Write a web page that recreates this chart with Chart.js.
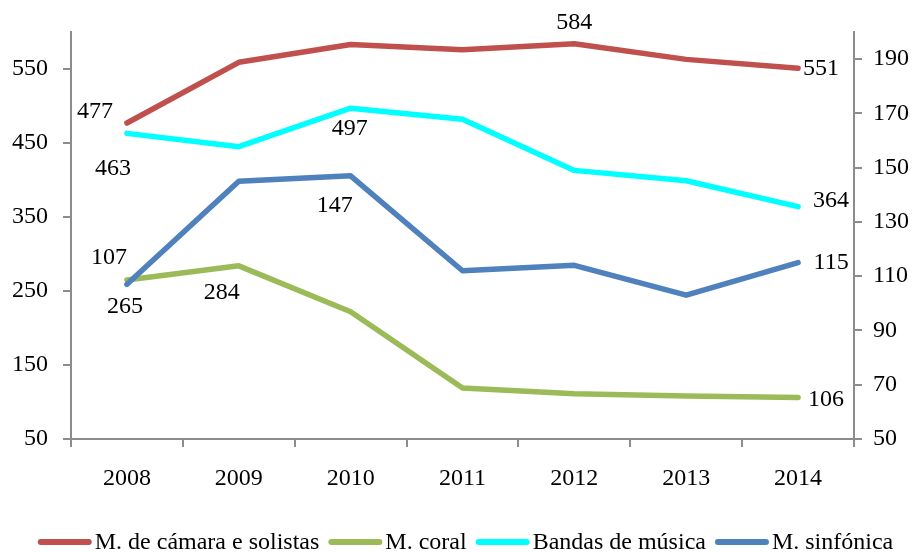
<!DOCTYPE html>
<html><head><meta charset="utf-8">
<script src="https://cdn.jsdelivr.net/npm/chart.js@4"></script>
<style>html,body{margin:0;padding:0;background:#fff}#wrap{width:916px;height:552px}</style>
</head><body><div id="wrap"><canvas id="c" width="916" height="552"></canvas></div>
<script>
const years = ['2008','2009','2010','2011','2012','2013','2014'];
const camara = [477, 559, 583, 576, 584, 563, 551];
const coral = [265, 284, 222, 119, 111, 108, 106];
const bandas = [463, 445, 497, 482, 413, 399, 364];
const sinfonica = [107, 145, 147, 112, 114, 103, 115];
const leftTicks = [50, 150, 250, 350, 450, 550];
const rightTicks = [50, 70, 90, 110, 130, 150, 170, 190];
const seriesNames = ['M. de cámara e solistas', 'M. coral', 'Bandas de música', 'M. sinfónica'];

const colors = ['#C0504D', '#9BBB59', '#00FFFF', '#4F81BD'];
const FONT = '"Liberation Serif", "Times New Roman", serif';
const FS = 24;
const axisColor = '#8c8c8c';

// label placement (dataset, index, offset from point)
const labelSpecs = [
  {ds:0, i:0, dx:-32, dy:-11}, {ds:0, i:4, dx:0, dy:-21}, {ds:0, i:6, dx:23, dy:0},
  {ds:1, i:0, dx:-2, dy:27}, {ds:1, i:1, dx:-17, dy:27}, {ds:1, i:6, dx:28, dy:2},
  {ds:2, i:0, dx:-14, dy:35}, {ds:2, i:2, dx:-1, dy:20}, {ds:2, i:6, dx:33, dy:-6},
  {ds:3, i:0, dx:-18, dy:-27}, {ds:3, i:2, dx:-16, dy:30}, {ds:3, i:6, dx:33, dy:0}
];

const dataLabelPlugin = {
  id: 'dataLabels',
  afterDatasetsDraw(chart) {
    const ctx = chart.ctx;
    ctx.save();
    ctx.font = FS + 'px ' + FONT;
    ctx.fillStyle = '#000';
    ctx.textAlign = 'center';
    ctx.textBaseline = 'middle';
    labelSpecs.forEach(s => {
      const pt = chart.getDatasetMeta(s.ds).data[s.i];
      const v = chart.data.datasets[s.ds].data[s.i];
      ctx.fillText(String(v), pt.x + s.dx, pt.y + s.dy);
    });
    ctx.restore();
  }
};

const legendPlugin = {
  id: 'lineLegend',
  afterDraw(chart) {
    const ctx = chart.ctx;
    ctx.save();
    ctx.font = FS + 'px ' + FONT;
    const sw = 54, gapT = 3, gapI = 9;
    const items = chart.data.datasets.map(d => ({label: d.label, color: d.borderColor, w: ctx.measureText(d.label).width}));
    const total = items.reduce((a, it) => a + sw + gapT + it.w, 0) + gapI * (items.length - 1);
    let x = (chart.chartArea.left + chart.chartArea.right) / 2 - total / 2 + 3;
    const y = 542;
    items.forEach(it => {
      ctx.strokeStyle = it.color;
      ctx.lineWidth = 6;
      ctx.lineCap = 'round';
      ctx.beginPath();
      ctx.moveTo(x + 3, y);
      ctx.lineTo(x + sw - 3, y);
      ctx.stroke();
      ctx.fillStyle = '#000';
      ctx.textAlign = 'left';
      ctx.textBaseline = 'middle';
      ctx.fillText(it.label, x + sw + gapT, y + 1);
      x += sw + gapT + it.w + gapI;
    });
    ctx.restore();
  }
};

const seriesData = [camara, coral, bandas, sinfonica];
const axes = ['y', 'y', 'y', 'y1'];

new Chart(document.getElementById('c'), {
  type: 'line',
  data: {
    labels: years,
    datasets: seriesData.map((d, k) => ({
      label: seriesNames[k],
      data: d,
      yAxisID: axes[k],
      borderColor: colors[k],
      backgroundColor: colors[k],
      borderWidth: 5.5,
      pointRadius: 0,
      tension: 0,
      borderCapStyle: 'round',
      borderJoinStyle: 'round',
      order: 4 - k
    }))
  },
  options: {
    responsive: false,
    animation: false,
    devicePixelRatio: 1,
    layout: {padding: {top: 32, left: 0, right: 0, bottom: 0}},
    plugins: {legend: {display: false}, tooltip: {enabled: false}},
    scales: {
      x: {
        type: 'category',
        offset: true,
        grid: {offset: true, drawOnChartArea: false, tickLength: 8, color: axisColor, lineWidth: 2},
        border: {color: axisColor, width: 2},
        ticks: {color: '#000', font: {family: FONT, size: FS}, padding: 17, maxRotation: 0, autoSkip: false},
        afterFit(s) { s.height = 113; }
      },
      y: {
        position: 'left',
        min: 50, max: 600,
        afterBuildTicks(s) { s.ticks = leftTicks.map(v => ({value: v})); },
        grid: {drawOnChartArea: false, tickLength: 8, color: axisColor, lineWidth: 2},
        border: {color: axisColor, width: 2},
        ticks: {color: '#000', font: {family: FONT, size: FS}, padding: 15},
        afterFit(s) { s.width = 71; }
      },
      y1: {
        position: 'right',
        min: 50, max: 200,
        afterBuildTicks(s) { s.ticks = rightTicks.map(v => ({value: v})); },
        grid: {drawOnChartArea: false, tickLength: 8, color: axisColor, lineWidth: 2},
        border: {color: axisColor, width: 2},
        ticks: {color: '#000', font: {family: FONT, size: FS}, padding: 11},
        afterFit(s) { s.width = 62; }
      }
    }
  },
  plugins: [dataLabelPlugin, legendPlugin]
});
</script>
</body></html>
